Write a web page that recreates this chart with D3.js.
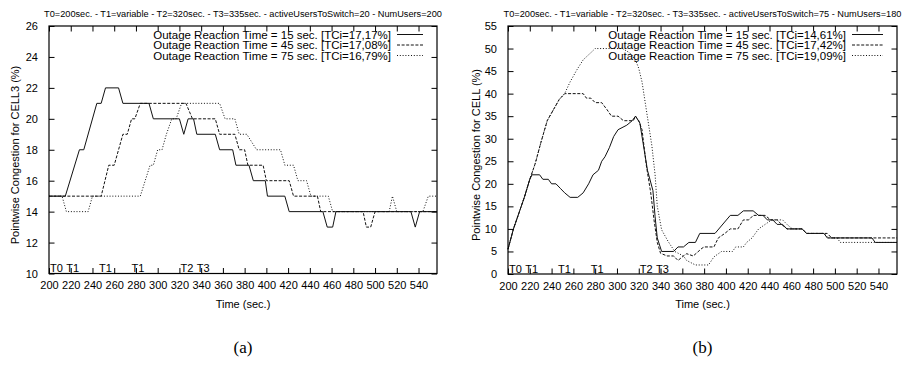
<!DOCTYPE html>
<html>
<head>
<meta charset="utf-8">
<script src="https://cdn.jsdelivr.net/npm/d3@7"></script>
<style>
  body { margin: 0; background: #fff; }
  text { font-family: "Liberation Sans", Arial, sans-serif; fill: #000; }
</style>
</head>
<body>
<svg id="chart" width="920" height="369"></svg>
<script>
// ---- data: [time (sec), congestion (%)] ----
var cell3_15 = [[200,15],[215,15],[228,18],[232,18],[244,21],[248,21],[252,22],[264,22],[268,21],[292,21],[296,20],[320,20],[324,19],[328,20],[333,20],[336,19],[353,19],[357,18],[369,18],[372,17],[384,17],[388,16],[399,16],[401,15],[417,15],[421,14],[452,14],[456,13],[461,13],[464,14],[533,14],[537,13],[541,14],[557,14]];
var cell3_45 = [[200,15],[248,15],[255,17],[260,17],[268,19],[272,19],[276,20],[279,20],[284,21],[326,21],[332,20],[353,20],[357,19],[371,19],[375,18],[380,18],[383,17],[397,17],[400,16],[421,16],[425,15],[447,15],[450,14],[489,14],[492,13],[496,13],[500,14],[557,14]];
var cell3_75 = [[200,15],[212,15],[216,14],[236,14],[240,15],[284,15],[293,17],[296,17],[300,18],[304,18],[308,19],[313,20],[317,20],[322,21],[357,21],[362,20],[371,20],[375,19],[382,19],[391,18],[413,18],[417,17],[425,17],[429,16],[437,16],[441,15],[457,15],[461,14],[513,14],[516,15],[520,14],[544,14],[549,15],[557,15]];

var cell_15 = [[200,5.5],[205,10],[210,13.5],[215,17],[220,21],[222,22],[229,22],[232,21],[237,21],[240,20],[244,20],[248,19],[252,18],[257,17],[264,17],[269,18],[274,20],[278,22],[283,23],[286,25],[289,26],[293,28],[297,30.5],[301,32],[309,33],[314,34],[317,35],[321,33.5],[324,29],[328,23],[333,18.5],[335,12.7],[337,8],[341,5],[352,5],[356,6],[361,6],[366,7],[372,7],[376,9],[390,9],[404,13],[411,13],[416,14],[425,14],[430,13],[434,13],[438,12],[443,12],[447,11],[452,11],[456,10],[470,10],[474,9],[490,9],[493,8],[534,8],[537,7],[557,7]];
var cell_45 = [[200,5.5],[205,10],[210,13.5],[215,17],[220,21],[225,24.5],[230,29],[236,34],[243,37],[247,38.7],[252,40],[269,40],[272,39],[276,39],[280,38],[286,38],[291,36.4],[295,35],[301,35],[306,34],[315,34],[317,35],[320,34],[323,32],[327,24],[331,18],[334,12],[337,7],[340,4.6],[346,4],[352,4],[356,3],[361,4],[364,4.5],[370,4],[378,5.7],[380,6],[389,6],[393,8],[399,9],[404,10],[411,10],[416,12],[421,12],[425,13],[436,13],[441,12],[447,12],[451,11],[456,10],[470,10],[474,9],[493,9],[497,8],[557,8]];
var cell_75 = [[200,5.5],[205,10],[210,13.5],[215,17],[220,21],[225,24.5],[230,29],[236,34],[243,37],[247,38.7],[252,40],[257,42.6],[263,45.2],[269,47.5],[277,49.3],[280,50],[305,50],[312,49],[317,47.5],[320,45.6],[323,42.6],[332,28.5],[335,22],[337,15],[341,9.8],[347,7.2],[353,5],[361,4],[364,3],[372,2],[384,2],[389,3.8],[396,5],[406,5],[409,6],[416,6],[419,7],[424,8],[430,10],[436,11],[442,12],[452,12],[456,11],[461,10],[470,10],[474,9],[490,9],[494,8],[502,8],[505,7],[557,7]];

var xTicks = [200,220,240,260,280,300,320,340,360,380,400,420,440,460,480,500,520,540];
var yTicksA = [10,12,14,16,18,20,22,24,26];
var yTicksB = [0,5,10,15,20,25,30,35,40,45,50,55];
var reactionTimes = [15, 45, 75];
var tciA = ["17,17", "17,08", "16,79"];
var tciB = ["14,61", "17,42", "19,09"];
var markerNames = ["T0", "T1", "T1", "T1", "T2", "T3"];
var markerTimes = [200, 215, 245, 275, 320, 335];

var titleA = "T0=200sec. - T1=variable - T2=320sec. - T3=335sec. - activeUsersToSwitch=20 - NumUsers=200";
var titleB = "T0=200sec. - T1=variable - T2=320sec. - T3=335sec. - activeUsersToSwitch=75 - NumUsers=180";

var svg = d3.select("#chart");
var dashes = [null, "3,1.6", "1,1.8"];

function drawPanel(p) {
    var x = d3.scaleLinear().domain([200, 557]).range([p.left, p.right]);
    var y = d3.scaleLinear().domain(p.yDomain).range([p.bottom, p.top]);
    var g = svg.append("g");
    var tick = 5.5;

    // title
    g.append("text")
        .attr("x", (p.left + p.right) / 2)
        .attr("y", 16.5)
        .attr("text-anchor", "middle")
        .attr("font-size", "9.2px")
        .text(p.title);

    // series
    var line = d3.line()
        .x(function (d) { return x(d[0]); })
        .y(function (d) { return y(d[1]); });
    p.series.forEach(function (s, i) {
        g.append("path")
            .datum(s)
            .attr("d", line)
            .attr("fill", "none")
            .attr("stroke", "#111")
            .attr("stroke-width", 1)
            .attr("stroke-dasharray", dashes[i]);
    });

    // x axis (bottom + mirrored top)
    var xAxis = d3.axisBottom(x).tickValues(xTicks).tickSize(-tick).tickPadding(8);
    var xa = g.append("g").attr("transform", "translate(0," + p.bottom + ")").call(xAxis);
    var xTop = d3.axisTop(x).tickValues(xTicks).tickSize(-tick).tickFormat("");
    var xt = g.append("g").attr("transform", "translate(0," + p.top + ")").call(xTop);

    // y axis (left + mirrored right)
    var yAxis = d3.axisLeft(y).tickValues(p.yTicks).tickSize(-tick).tickPadding(11);
    var ya = g.append("g").attr("transform", "translate(" + p.left + ",0)").call(yAxis);
    var yRight = d3.axisRight(y).tickValues(p.yTicks).tickSize(-tick).tickFormat("");
    var yr = g.append("g").attr("transform", "translate(" + p.right + ",0)").call(yRight);

    [xa, xt, ya, yr].forEach(function (a) {
        a.select(".domain").remove();
        a.selectAll("line").attr("stroke", "#000").attr("stroke-width", 1);
        a.selectAll("text").attr("font-size", "11px").attr("font-family", "Liberation Sans, Arial, sans-serif");
    });

    // frame
    g.append("rect")
        .attr("x", p.left).attr("y", p.top)
        .attr("width", p.right - p.left).attr("height", p.bottom - p.top)
        .attr("fill", "none").attr("stroke", "#000").attr("stroke-width", 1.2);

    // T markers inside the plot
    markerTimes.forEach(function (t, i) {
        g.append("text")
            .attr("x", x(t) + 1)
            .attr("y", p.bottom - 1.5)
            .attr("font-size", "11px")
            .text(markerNames[i]);
    });

    // legend
    reactionTimes.forEach(function (r, i) {
        var ly = 34.5 + i * 10.5;
        g.append("text")
            .attr("x", p.legendX)
            .attr("y", ly)
            .attr("dy", "0.35em")
            .attr("text-anchor", "end")
            .attr("font-size", "11.5px")
            .text("Outage Reaction Time = " + r + " sec. [TCi=" + p.tci[i] + "%]");
        g.append("line")
            .attr("x1", p.legendX + 6).attr("x2", p.right - 14)
            .attr("y1", ly).attr("y2", ly)
            .attr("stroke", "#111").attr("stroke-width", 1)
            .attr("stroke-dasharray", dashes[i]);
    });

    // axis titles
    g.append("text")
        .attr("x", (p.left + p.right) / 2)
        .attr("y", 304)
        .attr("dy", "0.35em")
        .attr("text-anchor", "middle")
        .attr("font-size", "11px")
        .text("Time (sec.)");
    g.append("text")
        .attr("transform", "translate(" + p.yLabelX + "," + 155 + ") rotate(-90)")
        .attr("dy", "0.35em")
        .attr("text-anchor", "middle")
        .attr("font-size", "11px")
        .text(p.yLabel);

    // sub caption
    g.append("text")
        .attr("x", (p.left + p.right) / 2)
        .attr("y", 347)
        .attr("dy", "0.35em")
        .attr("text-anchor", "middle")
        .attr("font-size", "17px")
        .style("font-family", "'Liberation Serif', 'DejaVu Serif', serif")
        .text(p.caption);
}

drawPanel({
    left: 49, right: 437, top: 26, bottom: 273.5,
    yDomain: [10, 26], yTicks: yTicksA,
    series: [cell3_15, cell3_45, cell3_75],
    tci: tciA, legendX: 391, title: titleA,
    yLabel: "Pointwise Congestion for CELL3 (%)", yLabelX: 15,
    caption: "(a)"
});

drawPanel({
    left: 508, right: 897, top: 26, bottom: 274,
    yDomain: [0, 55], yTicks: yTicksB,
    series: [cell_15, cell_45, cell_75],
    tci: tciB, legendX: 846, title: titleB,
    yLabel: "Pointwise Congestion for CELL (%)", yLabelX: 476,
    caption: "(b)"
});
</script>
</body>
</html>
